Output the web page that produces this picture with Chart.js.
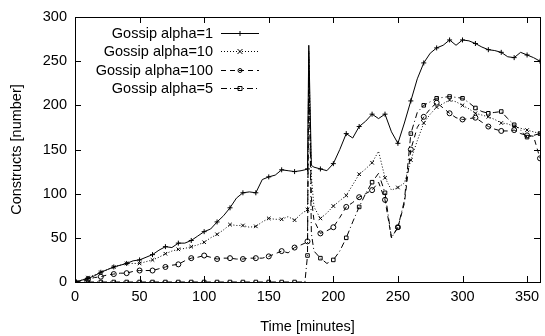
<!DOCTYPE html>
<html>
<head>
<meta charset="utf-8">
<title>Constructs over time</title>
<script src="https://cdn.jsdelivr.net/npm/chart.js@4/dist/chart.umd.min.js"></script>
<style>
  html, body { margin: 0; padding: 0; background: #fff; }
  canvas { display: block; }
</style>
</head>
<body>
<canvas id="chart" width="545" height="336"></canvas>
<script>
/* Sample times in minutes (extra samples around the burst at 181) */
const times = [
  0, 5, 10, 15, 20, 25, 30, 35, 40, 45, 50, 55, 60, 65, 70, 75, 80, 85, 90, 95,
  100, 105, 110, 115, 120, 125, 130, 135, 140, 145, 150, 155, 160, 165, 170, 175,
  178, 180, 181, 183, 185, 190, 195, 200, 205, 210, 215, 220, 225, 230, 235, 240, 245,
  250, 255, 260, 265, 270, 275, 280, 285, 290, 295, 300, 305, 310, 315, 320, 325,
  330, 335, 340, 345, 350, 355, 360
];
const xTickValues = [0, 50, 100, 150, 200, 250, 300, 350];
const yTickValues = [0, 50, 100, 150, 200, 250, 300];

/* Constructs per run */
const alpha1 = [
  0, 2, 4, 7, 11, 14, 17, 19, 21, 24, 25, 28, 31, 36, 40, 39, 44, 44, 47, 52,
  57, 60, 68, 75, 84, 95, 101, 102, 101, 116, 119, 121, 127, 126, 125, 126,
  127, 128, 268, 132, 130, 128, 126, 134, 150, 168, 163, 176, 182, 190, 185, 190, 170,
  157, 180, 205, 230, 248, 259, 265, 268, 274, 268, 274, 273, 270, 266, 263, 262,
  260, 255, 254, 260, 257, 254, 250
];
const alpha10 = [
  0, 2, 5, 8, 11, 14, 17, 19, 21, 21, 21, 23, 25, 28, 32, 35, 37, 38, 40, 42,
  45, 50, 54, 59, 65, 64, 64, 62, 63, 68, 72, 71, 71, 74, 70, 77,
  80, 82, 255, 120, 85, 72, 78, 86, 92, 98, 110, 122, 128, 135, 148, 118, 104,
  107, 112, 138, 160, 180, 190, 198, 202, 206, 204, 200, 196, 191, 189, 187, 184,
  180, 179, 176, 174, 172, 170, 168
];
const alpha100 = [
  0, 1, 3, 5, 6, 8, 9, 10, 10, 12, 13, 13, 13, 15, 17, 19, 20, 24, 27, 28,
  30, 28, 26, 27, 27, 26, 26, 27, 27, 27, 29, 32, 35, 33, 39, 42,
  44, 46, 245, 95, 70, 55, 58, 62, 73, 85, 90, 96, 100, 104, 113, 93, 50,
  62, 89, 150, 175, 187, 196, 203, 197, 191, 186, 184, 185, 186, 181, 176, 173,
  171, 171, 172, 168, 166, 165, 140
];
const alpha5 = [
  0, 0, 0, 0, 0, 0, 0, 0, 0, 0, 0, 0, 0, 0, 0, 0, 0, 0, 0, 0,
  0, 0, 0, 0, 0, 0, 0, 0, 0, 0, 0, 0, 0, 0, 0, 0,
  0, 30, 262, 55, 35, 27, 21, 25, 35, 50, 68, 85, 100, 113, 123, 101, 50,
  62, 92, 168, 192, 200, 204, 208, 209, 210, 209, 208, 203, 197, 193, 191, 192,
  193, 185, 178, 172, 164, 166, 168
];

const seriesNames = ['Gossip alpha=1', 'Gossip alpha=10', 'Gossip alpha=100', 'Gossip alpha=5'];
const seriesValues = [alpha1, alpha10, alpha100, alpha5];
const seriesDash = [[], [1, 2], [5, 4], [6, 3, 1, 3]];
const seriesMarks = ['cross', 'crossRot', 'circle', 'rect'];

const FONT = '"Liberation Sans", Arial, Helvetica, sans-serif';
const FONT_SIZE = 14.5;
Chart.defaults.font.family = FONT;
Chart.defaults.font.size = FONT_SIZE;
Chart.defaults.color = '#000';

// markers only every 10 minutes, like the plot's point interval
const markRadius = (ctx) => (times[ctx.dataIndex] % 10 === 0 ? 2.5 : 0);

const datasets = seriesNames.map((name, i) => ({
  label: name,
  data: times.map((t, j) => ({ x: t, y: seriesValues[i][j] })),
  borderColor: '#000',
  borderWidth: 1,
  borderDash: seriesDash[i],
  pointStyle: seriesMarks[i],
  pointRadius: markRadius,
  pointBorderColor: '#000',
  pointBorderWidth: 1,
  pointBackgroundColor: 'rgba(0,0,0,0)',
  tension: 0,
  fill: false
}));

/* Small marker glyphs for the key */
function drawMark(ctx, style, x, y, r) {
  ctx.beginPath();
  if (style === 'cross') {
    ctx.moveTo(x - r, y); ctx.lineTo(x + r, y);
    ctx.moveTo(x, y - r); ctx.lineTo(x, y + r);
  } else if (style === 'crossRot') {
    ctx.moveTo(x - r, y - r); ctx.lineTo(x + r, y + r);
    ctx.moveTo(x - r, y + r); ctx.lineTo(x + r, y - r);
  } else if (style === 'circle') {
    ctx.arc(x, y, r * 0.8, 0, Math.PI * 2);
  } else {
    ctx.rect(x - r * 0.8, y - r * 0.8, r * 1.6, r * 1.6);
  }
  ctx.stroke();
}

/* Border box with inward ticks on all four sides */
const framePlugin = {
  id: 'frame',
  afterDraw(chart) {
    const { ctx, chartArea: a, scales: { x, y } } = chart;
    ctx.save();
    ctx.strokeStyle = '#000';
    ctx.lineWidth = 1;
    ctx.setLineDash([]);
    ctx.strokeRect(Math.round(a.left) + 0.5, Math.round(a.top) + 0.5,
      Math.round(a.right - a.left), Math.round(a.bottom - a.top));
    const len = 6;
    ctx.beginPath();
    x.ticks.forEach(t => {
      const px = Math.round(x.getPixelForValue(t.value)) + 0.5;
      ctx.moveTo(px, a.bottom); ctx.lineTo(px, a.bottom - len);
      ctx.moveTo(px, a.top); ctx.lineTo(px, a.top + len);
    });
    y.ticks.forEach(t => {
      const py = Math.round(y.getPixelForValue(t.value)) + 0.5;
      ctx.moveTo(a.left, py); ctx.lineTo(a.left + len, py);
      ctx.moveTo(a.right, py); ctx.lineTo(a.right - len, py);
    });
    ctx.stroke();
    ctx.restore();
  }
};

/* Key in the upper left: label, then line sample with marker */
const keyPlugin = {
  id: 'key',
  afterDatasetsDraw(chart) {
    const { ctx } = chart;
    ctx.save();
    ctx.font = FONT_SIZE + 'px ' + FONT;
    ctx.fillStyle = '#000';
    ctx.strokeStyle = '#000';
    ctx.lineWidth = 1;
    ctx.textAlign = 'right';
    ctx.textBaseline = 'middle';
    chart.data.datasets.forEach((ds, i) => {
      const yy = Math.round(33 + i * 18.4) + 0.5;
      ctx.setLineDash([]);
      ctx.fillText(ds.label, 213, yy);
      ctx.setLineDash(ds.borderDash);
      ctx.beginPath();
      ctx.moveTo(221, yy); ctx.lineTo(259, yy);
      ctx.stroke();
      ctx.setLineDash([]);
      drawMark(ctx, ds.pointStyle, 240, yy, 2.5);
    });
    ctx.restore();
  }
};

new Chart(document.getElementById('chart'), {
  type: 'line',
  data: { datasets },
  options: {
    responsive: false,
    animation: false,
    layout: { padding: { top: 17, right: 2, left: 0, bottom: 0 } },
    plugins: { legend: { display: false }, tooltip: { enabled: false } },
    scales: {
      x: {
        type: 'linear',
        min: 0, max: 360,
        grid: { display: false, drawTicks: false },
        border: { display: false },
        ticks: { padding: 6, maxRotation: 0, autoSkip: false },
        // fixed tick set; the axis end at 360 stays unlabeled
        afterBuildTicks(s) { s.ticks = xTickValues.map(v => ({ value: v })); },
        title: { display: true, text: 'Time [minutes]', padding: { top: 0, bottom: 0 } },
        afterFit(s) { s.height = 54; s.paddingLeft = 0; s.paddingRight = 0; }
      },
      y: {
        min: 0, max: 300,
        grid: { display: false, drawTicks: false },
        border: { display: false },
        ticks: { padding: 8 },
        afterBuildTicks(s) { s.ticks = yTickValues.map(v => ({ value: v })); },
        title: { display: true, text: 'Constructs [number]', padding: { top: 8, bottom: 0 } },
        afterFit(s) { s.width = 75; s.paddingTop = 0; s.paddingBottom = 0; }
      }
    }
  },
  plugins: [framePlugin, keyPlugin]
});
</script>
</body>
</html>
